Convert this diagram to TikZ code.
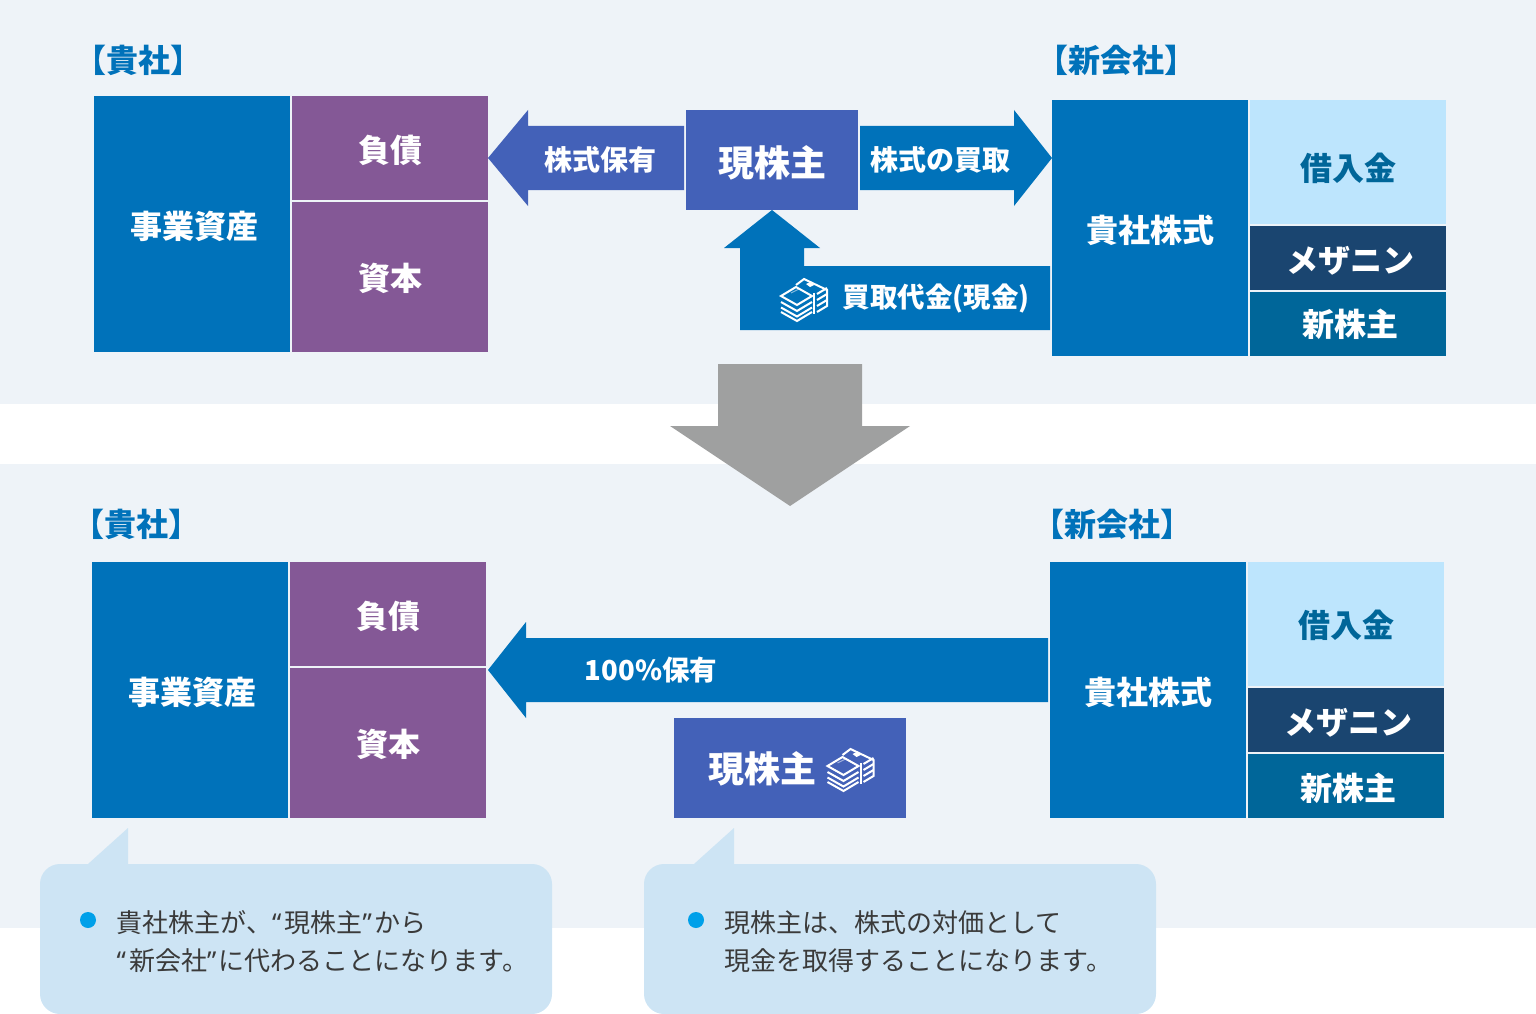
\documentclass[tikz,border=0pt]{standalone}
\usepackage{fontspec}
\setmainfont{Noto Sans CJK JP}
\newfontfamily\latinfont{Noto Sans}
\definecolor{paleback}{HTML}{EEF3F8}
\definecolor{bizblue}{HTML}{0072BA}
\definecolor{bizpurple}{HTML}{845896}
\definecolor{holderblue}{HTML}{4361B8}
\definecolor{loanblue}{HTML}{BDE5FD}
\definecolor{loantext}{HTML}{006699}
\definecolor{mezzdark}{HTML}{1A4570}
\definecolor{equityblue}{HTML}{006699}
\definecolor{downgray}{HTML}{9FA0A0}
\definecolor{notefill}{HTML}{CDE4F4}
\definecolor{notedot}{HTML}{00A0E9}
\definecolor{notetext}{HTML}{3A3A3A}
\newcommand{\qtl}{{\latinfont “}\kern3pt}
\newcommand{\qtr}{{\latinfont ”}\kern2.5pt}
\newcommand{\labelsize}[1]{\fontsize{#1}{#1}\selectfont}
\tikzset{
	block/.style={inner sep=0pt, outer sep=0pt, font=\labelsize{32}\bfseries, text=white},
	head/.style={font=\labelsize{32}\bfseries, text=bizblue, inner sep=0pt},
	tag/.style={font=\labelsize{28}\bfseries, text=white, inner sep=0pt},
	note/.style={font=\labelsize{26}, text=notetext, inner sep=0pt, anchor=west},
	money/.pic={
		\begin{scope}[white, line width=2pt, line join=miter]
			\draw (0,18) -- (15,9) -- (31,18) -- (16,27) -- cycle;
			\foreach \y in {6,11.5,16}
				\draw (0,18+\y) -- (16,27+\y) -- (31,18+\y);
			\draw (15,7) -- (23,1) -- (46,12) -- (46,28) -- (36,34);
			\foreach \y in {16,22,28}
				\draw (36,\y) -- (46,\y-6);
			\draw (33,15) -- (33,36);
		\end{scope}
		\fill[white] (25,6) -- (30,3.5) -- (33,7) -- (29,9) -- cycle;
		\draw[white, opacity=0.5, line width=1pt] (10,15) -- (18,11);
	}
}
\newcommand{\rect}[6]{% name, colour, x0, y0, x1, y1
	\path[fill=#2] (#3,#4) rectangle (#5,#6);
	\coordinate (#1) at ({(#3+#5)/2},{(#4+#6)/2});
}
\begin{document}
\begin{tikzpicture}[x=1pt, y=-1pt]
	\useasboundingbox (0,0) rectangle (1536,1014);
	% backgrounds
	\fill[paleback] (0,0) rectangle (1536,404);
	\fill[paleback] (0,464) rectangle (1536,928);

	% before
	\rect{assetsA}{bizblue}{94}{96}{290}{352}
	\rect{debtA}{bizpurple}{292}{96}{488}{200}
	\rect{equityA}{bizpurple}{292}{202}{488}{352}
	\rect{stockA}{bizblue}{1052}{100}{1248}{356}
	\rect{loanA}{loanblue}{1250}{100}{1446}{224}
	\rect{mezzA}{mezzdark}{1250}{226}{1446}{290}
	\rect{newA}{equityblue}{1250}{292}{1446}{356}
	\rect{holderA}{holderblue}{686}{110}{858}{210}
	\fill[holderblue] (488,158) -- (528,110) -- (528,126) -- (684,126) -- (684,190) -- (528,190) -- (528,206) -- cycle;
	\fill[bizblue] (1052,158) -- (1014,110) -- (1014,126) -- (860,126) -- (860,190) -- (1014,190) -- (1014,206) -- cycle;
	\fill[bizblue] (772,210) -- (820,248) -- (804,248) -- (804,266) -- (1050,266) -- (1050,330) -- (740,330) -- (740,248) -- (724,248) -- cycle;

	\node[head] (firmA) at (138,60) {【貴社】};
	\node[head] (buyerA) at (1116,60) {【新会社】};
	\node[block] at (assetsA) [xshift=2pt, yshift=-2pt] {事業資産};
	\node[block] at (debtA) [yshift=-2pt] {負債};
	\node[block] at (equityA) [yshift=-1pt] {資本};
	\node[block] at (stockA) [yshift=-2pt] {貴社株式};
	\node[block, text=loantext] at (loanA) [yshift=-6pt] {借入金};
	\node[block] at (mezzA) [xshift=2pt, yshift=-3pt] {メザニン};
	\node[block] at (newA) [xshift=2pt] {新株主};
	\node[block, font=\labelsize{36}\bfseries] at (holderA) [yshift=-3pt] {現株主};
	\node[tag] (keepA) at (600,160) {株式保有};
	\node[tag] (sellA) at (940,160) {株式の買取};
	\node[tag, font=\labelsize{27.5}\bfseries] (cashA) at (936,299) {買取代金(現金)};
	\pic at (781,278) {money};

	% big arrow
	\fill[downgray] (718,364) -- (862,364) -- (862,426) -- (910,426) -- (790,506) -- (670,426) -- (718,426) -- cycle;

	% after
	\rect{assetsB}{bizblue}{92}{562}{288}{818}
	\rect{debtB}{bizpurple}{290}{562}{486}{666}
	\rect{equityB}{bizpurple}{290}{668}{486}{818}
	\rect{stockB}{bizblue}{1050}{562}{1246}{818}
	\rect{loanB}{loanblue}{1248}{562}{1444}{686}
	\rect{mezzB}{mezzdark}{1248}{688}{1444}{752}
	\rect{newB}{equityblue}{1248}{754}{1444}{818}
	\rect{holderB}{holderblue}{674}{718}{906}{818}
	\fill[bizblue] (488,670) -- (526,622) -- (526,638) -- (1048,638) -- (1048,702) -- (526,702) -- (526,718) -- cycle;

	\node[head] (firmB) at (136,524) {【貴社】};
	\node[head] (buyerB) at (1112,524) {【新会社】};
	\node[block] at (assetsB) [xshift=2pt, yshift=-2pt] {事業資産};
	\node[block] at (debtB) [yshift=-2pt] {負債};
	\node[block] at (equityB) [yshift=-1pt] {資本};
	\node[block] at (stockB) [yshift=-2pt] {貴社株式};
	\node[block, text=loantext] at (loanB) [yshift=-1pt] {借入金};
	\node[block] at (mezzB) [xshift=2pt, yshift=-3pt] {メザニン};
	\node[block] at (newB) [xshift=2pt, yshift=-2pt] {新株主};
	\node[block, font=\labelsize{36}\bfseries] at (762,769) {現株主};
	\node[tag, font=\labelsize{27.5}\bfseries] (shareB) at (651,670) {100\%保有};
	\pic at (827.5,748) {money};

	% notes
	\foreach \x/\w/\d in {40/88/88, 644/694/696}
	{
		\fill[notefill, rounded corners=20pt] (\x,864) rectangle (\x+512,1014);
		\fill[notefill] (\w,864) -- (\w+40,828) -- (\w+40,866) -- (\w,866) -- cycle;
		\fill[notedot] (\d,920) circle [radius=8];
	}
	\node[note] (noteA) at (116.5,923) {貴社株主が、\qtl 現株主\qtr から};
	\node[note] (noteB) at (116.5,961) {\qtl 新会社\qtr に代わることになります。};
	\node[note] (noteC) at (724.5,923) {現株主は、株式の対価として};
	\node[note] (noteD) at (724.5,961) {現金を取得することになります。};
\end{tikzpicture}
\end{document}
